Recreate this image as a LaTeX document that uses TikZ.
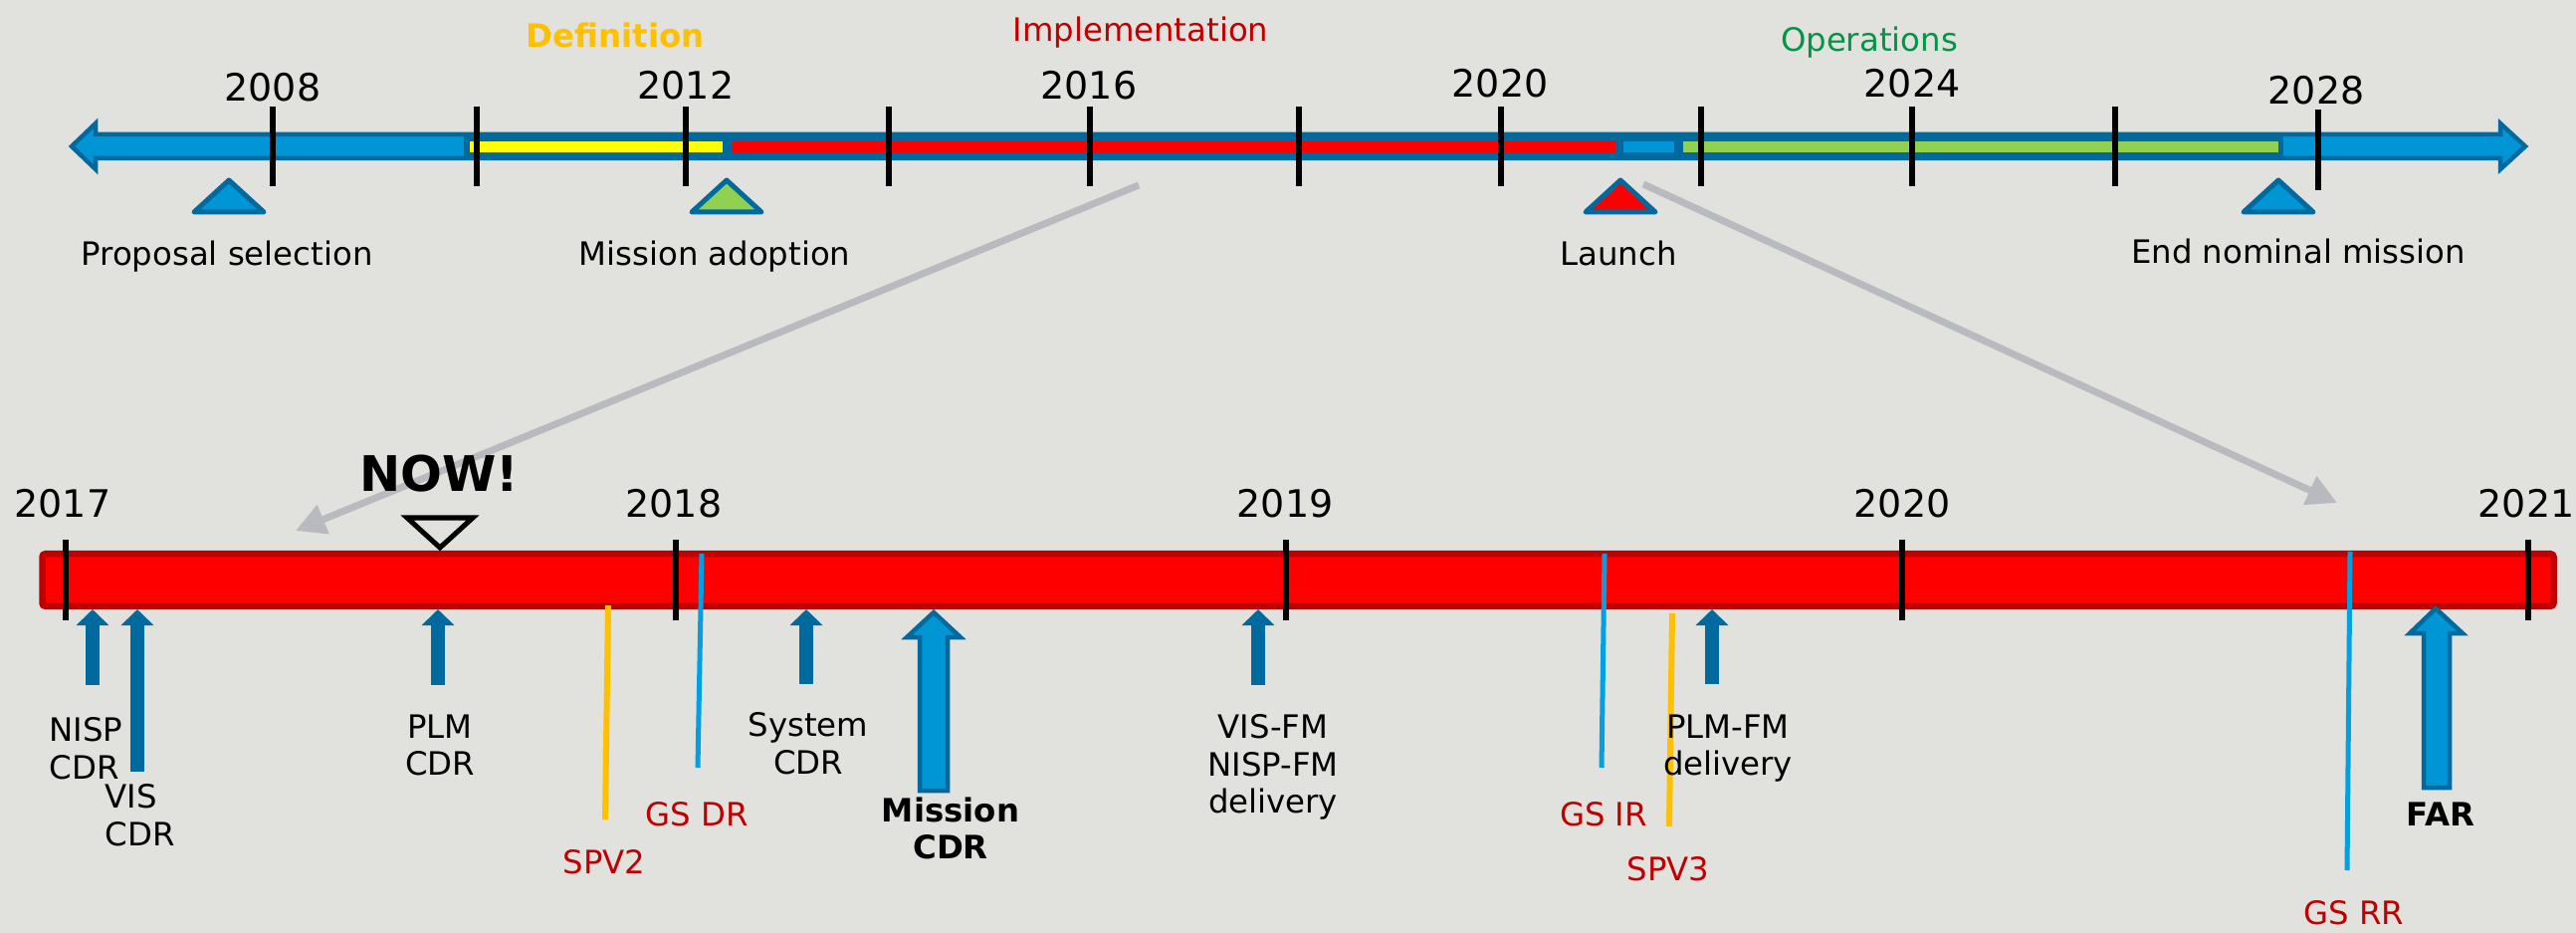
\documentclass[tikz,border=0pt]{standalone}
\usepackage{fontspec}
\setmainfont{DejaVu Sans}
\usepackage{tikz}
\usetikzlibrary{
  arrows.meta,
  positioning,
  calc
}
\definecolor{paperbg}{RGB}{225, 225, 221}
\definecolor{axisdark}{RGB}{0, 106, 158}
\definecolor{axislight}{RGB}{0, 150, 214}
\definecolor{defyellow}{RGB}{255, 255, 0}
\definecolor{defgold}{RGB}{255, 192, 0}
\definecolor{implred}{RGB}{255, 0, 0}
\definecolor{impltext}{RGB}{192, 0, 0}
\definecolor{opsgreen}{RGB}{146, 208, 80}
\definecolor{opstext}{RGB}{0, 150, 70}
\definecolor{zoomgray}{RGB}{184, 186, 192}
\definecolor{gsblue}{RGB}{0, 160, 226}
\tikzset{
  yearlbl/.style = {font=\fontsize{10.8}{12}\selectfont, inner sep=0pt, anchor=base},
  phaselbl/.style = {font=\fontsize{9.2}{11}\selectfont, text=#1,
    inner sep=0pt, anchor=base},
  msllbl/.style = {font=\fontsize{9.2}{11}\selectfont, inner sep=0pt, anchor=base},
  evlbl/.style = {font=\fontsize{9.2}{10.7}\selectfont, align=center,
    inner sep=0pt, anchor=north},
  revlbl/.style = {evlbl, text=impltext},
  keylbl/.style = {evlbl, font=\fontsize{9.2}{10.7}\selectfont\bfseries},
  tick/.style = {draw=black, line width=0.06cm},
  milestone/.style = {draw=axisdark, line width=0.05cm, line join=round, fill=#1},
  milestone/.default = axislight,
  nowmark/.style = {draw=black, line width=0.05cm, line join=miter, fill=paperbg},
  zoomarr/.style = {-{Triangle[width=0.3cm, length=0.3cm]}, draw=zoomgray,
    line width=0.07cm},
  evarr/.style = {-{Triangle[width=0.32cm, length=0.16cm]}, draw=axisdark,
    line width=0.14cm},
  bigarr/.style = {draw=axisdark, fill=axislight, line width=0.045cm, line join=miter},
  gsline/.style = {draw=gsblue, line width=0.05cm},
  spvline/.style = {draw=defgold, line width=0.06cm},
  lowbar/.style = {rectangle, draw=impltext, fill=implred, line width=0.065cm,
    rounded corners=0.03cm, inner sep=0pt},
}

\begin{document}
\begin{tikzpicture}[x=0.01cm, y=-0.01cm]

  \fill[paperbg] (0,0) rectangle (2588,937);
  \useasboundingbox (0,0) rectangle (2588,937);

  %% Mission overview axis
  \draw[draw=axisdark, fill=axislight, line width=0.045cm, line join=miter]
    (72,147) -- (96,124) -- (96,135) -- (2512,135) -- (2512,124) -- (2537,147)
    -- (2512,170) -- (2512,159) -- (96,159) -- (96,170) -- cycle;
  \fill[axisdark] (466,135) rectangle (2294,159);
  \fill[defyellow] (472,142) rectangle (726,153);
  \fill[implred]   (735,142) rectangle (1623,153);
  \fill[axislight] (1631,142) rectangle (1682,153);
  \fill[opsgreen]  (1691,142) rectangle (2289,153);

  \draw[tick] (274,107) -- (274,187)  (479,107) -- (479,187)
              (689,107) -- (689,187)  (893,107) -- (893,187)
              (1095,107) -- (1095,187) (1305,107) -- (1305,187)
              (1508,107) -- (1508,187) (1709,107) -- (1709,187)
              (1921,107) -- (1921,187) (2125,107) -- (2125,187)
              (2329,110) -- (2329,191);

  \node[yearlbl] (y2008) at (274,102) {2008};
  \node[yearlbl] (y2012) at (689,100) {2012};
  \node[yearlbl] (y2016) at (1094,100) {2016};
  \node[yearlbl] (y2020) at (1507,98) {2020};
  \node[yearlbl] (y2024) at (1921,98) {2024};
  \node[yearlbl] (y2028) at (2327,105) {2028};

  % phases
  \node[phaselbl=defgold, font=\fontsize{9.2}{11}\selectfont\bfseries]
    (defn) at (618,48) {Definition};
  \node[phaselbl=impltext] (impl) at (1146,42) {Implementation};
  \node[phaselbl=opstext] (ops) at (1878,52) {Operations};

  % milestones
  \coordinate (ps) at (230,213);
  \coordinate (ma) at (730,213);
  \coordinate (la) at (1628,213);
  \coordinate (en) at (2289,213);
  \draw[milestone] (ps) -- ++(35,0) -- ++(-35,-32) -- ++(-35,32) -- cycle;
  \draw[milestone=opsgreen] (ma) -- ++(35,0) -- ++(-35,-32) -- ++(-35,32) -- cycle;
  \draw[milestone=implred] (la) -- ++(35,0) -- ++(-35,-32) -- ++(-35,32) -- cycle;
  \draw[milestone] (en) -- ++(35,0) -- ++(-35,-32) -- ++(-35,32) -- cycle;

  \node[msllbl] (pslbl) at (228,267) {Proposal selection};
  \node[msllbl] (malbl) at (718,267) {Mission adoption};
  \node[msllbl] (lalbl) at (1626,267) {Launch};
  \node[msllbl] (enlbl) at (2309,265) {End nominal mission};

  %% Zoom arrows
  \coordinate (zoomLfrom) at (1144,186);
  \coordinate (zoomLto)   at (297,533);
  \coordinate (zoomRfrom) at (1651,185);
  \coordinate (zoomRto)   at (2348,505);
  \draw[zoomarr] (zoomLfrom) -- (zoomLto);
  \draw[zoomarr] (zoomRfrom) -- (zoomRto);

  %% Implementation detail axis
  \node[lowbar, minimum width=25.215cm, minimum height=0.525cm]
    (bar) at (1304,582.5) {};

  \draw[tick] (66,542) -- (66,623)  (679,542) -- (679,623)
              (1292,542) -- (1292,623) (1911,542) -- (1911,623)
              (2540,542) -- (2540,623);

  \node[yearlbl] (y2017) at (63,519) {2017};
  \node[yearlbl] (y2018) at (677,519) {2018};
  \node[yearlbl] (y2019) at (1291,519) {2019};
  \node[yearlbl] (y2020b) at (1911,519) {2020};
  \node[yearlbl] (y2021) at (2538,519) {2021};

  % now marker
  \node[anchor=base, inner sep=0pt, font=\fontsize{14}{16}\selectfont\bfseries]
    (now) at (441,493) {NOW!};
  \coordinate (nowpt) at (442,550);
  \draw[nowmark] (nowpt) -- ++(33,-30) -- ++(-66,0) -- cycle;

  % reviews and deliveries
  \coordinate (nisp)  at (93,688);
  \coordinate (vis)   at (138,775);
  \coordinate (plm)   at (440,688);
  \coordinate (sys)   at (810,687);
  \coordinate (visfm) at (1264,688);
  \coordinate (plmfm) at (1720,687);
  \coordinate (mcdr)  at (938,795);
  \coordinate (far)   at (2447,792);

  \draw[evarr] (nisp)  -- (nisp |- bar.south);
  \draw[evarr] (vis)   -- (vis |- bar.south);
  \draw[evarr] (plm)   -- (plm |- bar.south);
  \draw[evarr] (sys)   -- (sys |- bar.south);
  \draw[evarr] (visfm) -- (visfm |- bar.south);
  \draw[evarr] (plmfm) -- (plmfm |- bar.south);

  \draw[bigarr] ($(mcdr |- bar.south)+(0,3)$) -- ++(27,25) -- ++(-13,0)
    -- ++(0,154) -- ++(-28,0) -- ++(0,-154) -- ++(-13,0) -- cycle;
  \draw[bigarr] ($(far |- bar.south)+(0,-1)$) -- ++(27,25) -- ++(-13,0)
    -- ++(0,155) -- ++(-26,0) -- ++(0,-155) -- ++(-14,0) -- cycle;

  % ground segment and spacecraft lines
  \coordinate (spv2top) at (611,608);  \coordinate (spv2bot) at (608,823);
  \coordinate (gsdrtop) at (705,556);  \coordinate (gsdrbot) at (701,771);
  \coordinate (gsirtop) at (1612,556); \coordinate (gsirbot) at (1609,771);
  \coordinate (spv3top) at (1680,616); \coordinate (spv3bot) at (1677,830);
  \coordinate (gsrrtop) at (2361,554); \coordinate (gsrrbot) at (2358,874);
  \draw[spvline] (spv2top) -- (spv2bot);
  \draw[gsline]  (gsdrtop) -- (gsdrbot);
  \draw[gsline]  (gsirtop) -- (gsirbot);
  \draw[spvline] (spv3top) -- (spv3bot);
  \draw[gsline]  (gsrrtop) -- (gsrrbot);

  % labels
  \node[evlbl, anchor=north west, align=left] (nisplbl) at (49,720) {NISP\\CDR};
  \node[evlbl, anchor=north west, align=left] (vislbl) at (105,787) {VIS\\CDR};
  \node[evlbl] (plmlbl) at (442,717) {PLM\\CDR};
  \node[evlbl] (syslbl) at (812,715) {System\\CDR};
  \node[keylbl] (mcdrlbl) at (955,800) {Mission\\CDR};
  \node[evlbl] (visfmlbl) at (1279,717) {VIS-FM\\NISP-FM\\delivery};
  \node[evlbl] (plmfmlbl) at (1736,717) {PLM-FM\\delivery};
  \node[keylbl] (farlbl) at (2452,805) {FAR};
  \node[revlbl] (spv2lbl) at (607,853) {SPV2};
  \node[revlbl] (gsdrlbl) at (700,805) {GS DR};
  \node[revlbl] (gsirlbl) at (1611,805) {GS IR};
  \node[revlbl] (spv3lbl) at (1676,860) {SPV3};
  \node[revlbl] (gsrrlbl) at (2365,904) {GS RR};

\end{tikzpicture}
\end{document}
